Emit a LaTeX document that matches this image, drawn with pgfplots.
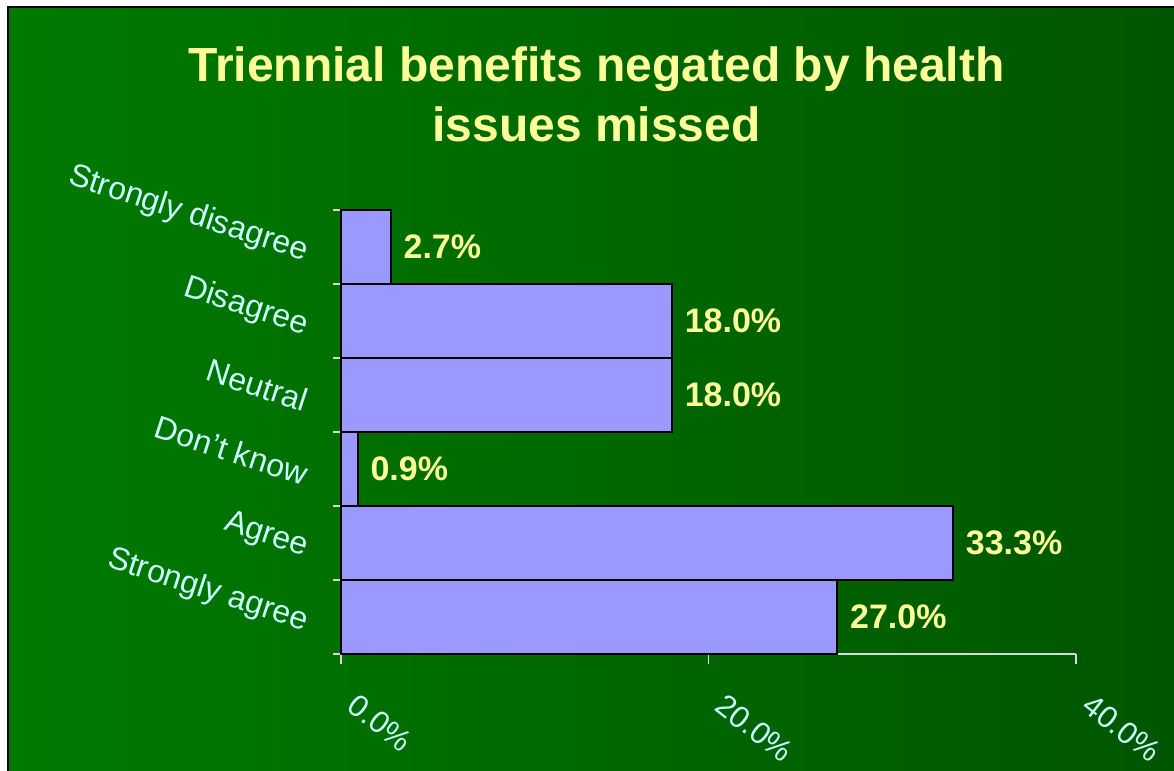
\documentclass[border=0pt]{standalone}
\usepackage{fontspec}
\setmainfont{Liberation Sans}
\usepackage{pgfplots}
\pgfplotsset{compat=1.18}
\definecolor{bgL}{RGB}{0,122,0}
\definecolor{bgR}{RGB}{0,86,0}
\definecolor{titleY}{RGB}{255,255,153}
\definecolor{tickC}{RGB}{204,255,255}
\definecolor{barC}{RGB}{153,153,255}
\begin{document}
\begin{tikzpicture}
\useasboundingbox (0,0) rectangle (587pt,385.5pt);
\fill[white] (0,0) rectangle (587pt,385.5pt);
\shade[left color=bgL, right color=bgR] (4pt,0) rectangle (587pt,382pt);
\draw[black, line width=1pt] (4pt,0) -- (4pt,382pt) -- (587pt,382pt);
\node[anchor=base, inner sep=0pt, text=titleY, font=\fontsize{24}{30}\selectfont\bfseries] at (298.25pt,344.5pt) {Triennial benefits negated by health};
\node[anchor=base, inner sep=0pt, text=titleY, font=\fontsize{24}{30}\selectfont\bfseries] at (298.25pt,314.5pt) {issues missed};
\begin{axis}[
  at={(170.5pt,58.5pt)}, anchor=south west,
  scale only axis, width=367.5pt, height=222pt,
  xbar, bar width=1,
  xmin=0, xmax=40, ymin=-0.5, ymax=5.5,
  enlargelimits=false, clip=false,
  y dir=reverse,
  /pgf/number format/assume math mode=true,
  axis x line*=bottom, axis y line*=left,
  axis line style={color=gray!30!white, line width=0.6pt, -},
  xtick={0,20,40}, xticklabels={0.0\%,20.0\%,40.0\%},
  ytick={0,1,2,3,4,5},
  yticklabels={Strongly disagree,Disagree,Neutral,Don\symbol{"27}t know,Agree,Strongly agree},
  minor ytick={-0.5,0.5,1.5,2.5,3.5,4.5,5.5},
  major y tick style={draw=none},
  minor y tick style={color=gray!30!white, line width=0.6pt},
  major x tick style={color=gray!30!white, line width=0.6pt},
  tick align=outside, major tick length=5pt, minor tick length=4pt,
  xticklabel style={xshift=9pt, yshift=-14pt, rotate=-38, anchor=north west, inner sep=0pt, text=tickC, font=\fontsize{15.5}{18}\selectfont},
  yticklabel style={xshift=-12pt, yshift=-3pt, rotate=-18, anchor=east, inner sep=0pt, text=tickC, font=\fontsize{16}{19}\selectfont},
  nodes near coords={\pgfmathprintnumber[fixed,fixed zerofill,precision=1,assume math mode=true]{\pgfplotspointmeta}\%},
  every node near coord/.append style={anchor=west, inner sep=0pt, xshift=6pt, text=titleY, font=\fontsize{17}{21}\selectfont\bfseries},
]
\addplot[fill=barC, draw=black, line width=1pt] coordinates {
  (2.7,0) (18.0,1) (18.0,2) (0.9,3) (33.3,4) (27.0,5)
};
\end{axis}
\end{tikzpicture}
\end{document}
